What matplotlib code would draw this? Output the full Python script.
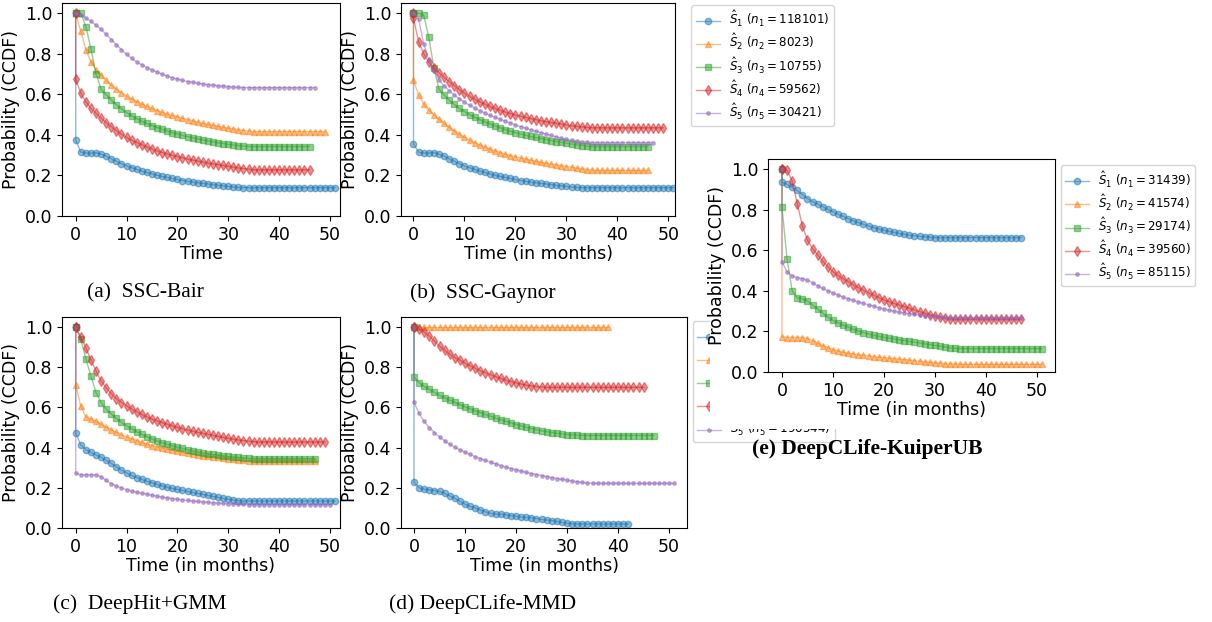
import numpy as np
import matplotlib
matplotlib.use("Agg")
import matplotlib.pyplot as plt
from matplotlib.patches import Rectangle

# ---------------- data (values at t = 0, 0+, 1, 2, ... months) ----------------
# (a) SSC-Bair
bair_s1 = [1.0, 0.375, 0.315, 0.31, 0.31, 0.312, 0.305, 0.295, 0.282, 0.27, 0.258, 0.247, 0.238, 0.23, 0.222,
           0.215, 0.208, 0.201, 0.195, 0.19, 0.185, 0.18, 0.175, 0.171, 0.167, 0.164, 0.161, 0.158, 0.155,
           0.152, 0.149, 0.146, 0.143, 0.141, 0.14, 0.14, 0.14, 0.14, 0.14, 0.14, 0.14, 0.14, 0.14, 0.14,
           0.14, 0.14, 0.14, 0.14, 0.14, 0.14, 0.14, 0.14, 0.14]
bair_s2 = [1.0, 1.0, 0.91, 0.82, 0.76, 0.72, 0.695, 0.668, 0.645, 0.625, 0.607, 0.59, 0.577, 0.564, 0.552,
           0.54, 0.53, 0.52, 0.511, 0.503, 0.496, 0.489, 0.482, 0.475, 0.469, 0.463, 0.457, 0.452, 0.447,
           0.442, 0.437, 0.433, 0.429, 0.425, 0.421, 0.418, 0.416, 0.416, 0.416, 0.416, 0.416, 0.416, 0.416,
           0.416, 0.416, 0.416, 0.416, 0.416, 0.416, 0.416, 0.416]
bair_s3 = [1.0, 1.0, 1.0, 0.934, 0.822, 0.70, 0.625, 0.597, 0.572, 0.549, 0.528, 0.51, 0.494, 0.48, 0.467,
           0.456, 0.446, 0.436, 0.427, 0.419, 0.411, 0.404, 0.397, 0.391, 0.385, 0.38, 0.375, 0.37, 0.365,
           0.361, 0.357, 0.353, 0.35, 0.347, 0.344, 0.342, 0.342, 0.342, 0.342, 0.342, 0.342, 0.342, 0.342,
           0.342, 0.342, 0.342, 0.342, 0.342]
bair_s4 = [1.0, 0.675, 0.605, 0.564, 0.531, 0.507, 0.482, 0.46, 0.44, 0.42, 0.403, 0.388, 0.374, 0.362, 0.351,
           0.34, 0.33, 0.321, 0.313, 0.306, 0.299, 0.293, 0.287, 0.281, 0.276, 0.271, 0.266, 0.261, 0.257,
           0.253, 0.249, 0.245, 0.241, 0.237, 0.234, 0.231, 0.228, 0.228, 0.228, 0.228, 0.228, 0.228, 0.228,
           0.228, 0.228, 0.228, 0.228, 0.228]
bair_s5 = [1.0, 1.0, 0.99, 0.975, 0.96, 0.94, 0.92, 0.895, 0.87, 0.845, 0.82, 0.797, 0.777, 0.76, 0.745,
           0.732, 0.72, 0.71, 0.70, 0.69, 0.682, 0.675, 0.669, 0.663, 0.659, 0.655, 0.651, 0.648, 0.645,
           0.642, 0.64, 0.638, 0.636, 0.634, 0.633, 0.633, 0.633, 0.633, 0.633, 0.633, 0.633, 0.633, 0.633,
           0.633, 0.633, 0.633, 0.633, 0.633, 0.633]

# (b) SSC-Gaynor
gaynor_s1 = [1.0, 0.355, 0.315, 0.31, 0.31, 0.312, 0.305, 0.295, 0.282, 0.27, 0.258, 0.247, 0.238, 0.23, 0.222,
             0.215, 0.208, 0.201, 0.195, 0.19, 0.185, 0.18, 0.175, 0.171, 0.167, 0.164, 0.161, 0.158, 0.155,
             0.152, 0.149, 0.146, 0.143, 0.141, 0.14, 0.14, 0.14, 0.14, 0.14, 0.14, 0.14, 0.14, 0.14, 0.14,
             0.14, 0.14, 0.14, 0.14, 0.14, 0.14, 0.14, 0.14, 0.14]
gaynor_s2 = [1.0, 0.668, 0.597, 0.553, 0.523, 0.498, 0.477, 0.457, 0.438, 0.42, 0.403, 0.388, 0.374, 0.362,
             0.35, 0.34, 0.33, 0.321, 0.313, 0.305, 0.298, 0.292, 0.286, 0.28, 0.275, 0.27, 0.265, 0.26, 0.256,
             0.252, 0.248, 0.244, 0.24, 0.236, 0.232, 0.229, 0.227, 0.225, 0.225, 0.225, 0.225, 0.225, 0.225,
             0.225, 0.225, 0.225, 0.225, 0.225]
gaynor_s3 = [1.0, 1.0, 1.0, 0.99, 0.882, 0.73, 0.625, 0.597, 0.572, 0.55, 0.53, 0.515, 0.50, 0.487, 0.475,
             0.464, 0.454, 0.444, 0.435, 0.426, 0.418, 0.411, 0.404, 0.398, 0.392, 0.387, 0.382, 0.377, 0.372,
             0.367, 0.363, 0.359, 0.355, 0.351, 0.347, 0.344, 0.341, 0.341, 0.341, 0.341, 0.341, 0.341, 0.341,
             0.341, 0.341, 0.341, 0.341, 0.341]
gaynor_s4 = [1.0, 0.975, 0.86, 0.80, 0.758, 0.728, 0.707, 0.684, 0.663, 0.643, 0.623, 0.605, 0.59, 0.576,
             0.563, 0.551, 0.54, 0.53, 0.521, 0.512, 0.505, 0.498, 0.492, 0.486, 0.48, 0.475, 0.47, 0.465,
             0.461, 0.457, 0.453, 0.449, 0.445, 0.442, 0.439, 0.437, 0.435, 0.435, 0.435, 0.435, 0.435, 0.435,
             0.435, 0.435, 0.435, 0.435, 0.435, 0.435, 0.435, 0.435, 0.435]
gaynor_s5 = [1.0, 1.0, 0.97, 0.85, 0.77, 0.717, 0.671, 0.641, 0.618, 0.597, 0.577, 0.561, 0.546, 0.532, 0.519,
             0.507, 0.496, 0.486, 0.476, 0.467, 0.458, 0.449, 0.441, 0.433, 0.425, 0.418, 0.411, 0.404, 0.397,
             0.39, 0.384, 0.378, 0.373, 0.369, 0.366, 0.364, 0.362, 0.362, 0.362, 0.362, 0.362, 0.362, 0.362,
             0.362, 0.362, 0.362, 0.362, 0.362, 0.362]

# (c) DeepHit+GMM
dh_s1 = [1.0, 0.473, 0.413, 0.39, 0.376, 0.363, 0.352, 0.337, 0.321, 0.305, 0.289, 0.274, 0.262, 0.251, 0.242,
         0.233, 0.225, 0.217, 0.21, 0.203, 0.197, 0.192, 0.187, 0.182, 0.177, 0.172, 0.167, 0.162, 0.157, 0.152,
         0.147, 0.143, 0.139, 0.136, 0.134, 0.134, 0.134, 0.134, 0.134, 0.134, 0.134, 0.134, 0.134, 0.134,
         0.134, 0.134, 0.134, 0.134, 0.134, 0.134, 0.134, 0.134, 0.134]
dh_s2 = [1.0, 0.713, 0.606, 0.552, 0.542, 0.53, 0.517, 0.502, 0.489, 0.476, 0.464, 0.453, 0.444, 0.435, 0.426,
         0.418, 0.41, 0.404, 0.398, 0.392, 0.386, 0.381, 0.376, 0.372, 0.368, 0.364, 0.36, 0.357, 0.354, 0.351,
         0.348, 0.345, 0.342, 0.339, 0.336, 0.334, 0.333, 0.333, 0.333, 0.333, 0.333, 0.333, 0.333, 0.333,
         0.333, 0.333, 0.333, 0.333, 0.333]
dh_s3 = [1.0, 1.0, 0.94, 0.842, 0.756, 0.674, 0.624, 0.591, 0.567, 0.545, 0.526, 0.509, 0.494, 0.479, 0.466,
         0.454, 0.443, 0.433, 0.424, 0.416, 0.409, 0.402, 0.396, 0.39, 0.385, 0.379, 0.374, 0.37, 0.366, 0.362,
         0.359, 0.356, 0.353, 0.351, 0.349, 0.347, 0.345, 0.345, 0.345, 0.345, 0.345, 0.345, 0.345, 0.345,
         0.345, 0.345, 0.345, 0.345, 0.345]
dh_s4 = [1.0, 1.0, 0.95, 0.896, 0.838, 0.781, 0.731, 0.698, 0.669, 0.644, 0.624, 0.608, 0.592, 0.578, 0.565,
         0.553, 0.542, 0.533, 0.524, 0.516, 0.508, 0.501, 0.494, 0.488, 0.482, 0.476, 0.471, 0.466, 0.461,
         0.456, 0.451, 0.446, 0.442, 0.438, 0.435, 0.432, 0.43, 0.428, 0.428, 0.428, 0.428, 0.428, 0.428,
         0.428, 0.428, 0.428, 0.428, 0.428, 0.428, 0.428, 0.428]
dh_s5 = [1.0, 0.272, 0.265, 0.265, 0.265, 0.265, 0.254, 0.237, 0.221, 0.209, 0.199, 0.191, 0.184, 0.178, 0.173,
         0.168, 0.163, 0.158, 0.154, 0.15, 0.146, 0.143, 0.14, 0.137, 0.135, 0.132, 0.13, 0.128, 0.126, 0.124,
         0.122, 0.12, 0.119, 0.118, 0.117, 0.115, 0.115, 0.115, 0.115, 0.115, 0.115, 0.115, 0.115, 0.115,
         0.115, 0.115, 0.115, 0.115, 0.115, 0.115, 0.115, 0.115]

# (d) DeepCLife-MMD
mmd_s1 = [1.0, 0.228, 0.2, 0.193, 0.19, 0.186, 0.182, 0.172, 0.16, 0.148, 0.133, 0.118, 0.108, 0.1, 0.09,
          0.08, 0.073, 0.07, 0.069, 0.066, 0.062, 0.058, 0.054, 0.053, 0.051, 0.047, 0.043, 0.04, 0.037,
          0.033, 0.028, 0.024, 0.021, 0.02, 0.02, 0.02, 0.02, 0.02, 0.02, 0.02, 0.02, 0.02, 0.02, 0.02]
mmd_s2 = [1.0, 1.0, 1.0, 1.0, 1.0, 1.0, 1.0, 1.0, 1.0, 1.0, 1.0, 1.0, 1.0, 1.0, 1.0, 1.0, 1.0, 1.0, 1.0, 1.0,
          1.0, 1.0, 1.0, 1.0, 1.0, 1.0, 1.0, 1.0, 1.0, 1.0, 1.0, 1.0, 1.0, 1.0, 1.0, 1.0, 1.0, 1.0, 1.0, 1.0]
mmd_s3 = [1.0, 0.753, 0.723, 0.705, 0.69, 0.675, 0.66, 0.648, 0.636, 0.625, 0.614, 0.603, 0.593, 0.583, 0.574,
          0.565, 0.556, 0.547, 0.539, 0.531, 0.523, 0.515, 0.508, 0.501, 0.495, 0.489, 0.484, 0.479, 0.475,
          0.471, 0.468, 0.465, 0.463, 0.462, 0.46, 0.46, 0.46, 0.46, 0.46, 0.46, 0.46, 0.46, 0.46, 0.46,
          0.46, 0.46, 0.46, 0.46, 0.46]
mmd_s4 = [1.0, 1.0, 0.99, 0.975, 0.955, 0.93, 0.905, 0.885, 0.865, 0.848, 0.835, 0.82, 0.807, 0.795, 0.783,
          0.772, 0.762, 0.753, 0.744, 0.736, 0.729, 0.722, 0.716, 0.711, 0.707, 0.704, 0.702, 0.70, 0.70,
          0.70, 0.70, 0.70, 0.70, 0.70, 0.70, 0.70, 0.70, 0.70, 0.70, 0.70, 0.70, 0.70, 0.70, 0.70, 0.70,
          0.70, 0.70]
mmd_s5 = [1.0, 0.625, 0.57, 0.53, 0.50, 0.475, 0.453, 0.434, 0.417, 0.402, 0.389, 0.377, 0.366, 0.355, 0.345,
          0.336, 0.327, 0.319, 0.311, 0.303, 0.296, 0.289, 0.283, 0.277, 0.271, 0.266, 0.261, 0.256, 0.251,
          0.246, 0.242, 0.238, 0.234, 0.23, 0.227, 0.224, 0.222, 0.222, 0.222, 0.222, 0.222, 0.222, 0.222,
          0.222, 0.222, 0.222, 0.222, 0.222, 0.222, 0.222, 0.222, 0.222, 0.222]

# (e) DeepCLife-KuiperUB
kub_s1 = [1.0, 0.935, 0.925, 0.91, 0.895, 0.875, 0.855, 0.84, 0.827, 0.815, 0.802, 0.79, 0.778, 0.767, 0.756,
          0.746, 0.737, 0.728, 0.72, 0.712, 0.705, 0.699, 0.693, 0.688, 0.683, 0.679, 0.675, 0.672, 0.669,
          0.667, 0.665, 0.663, 0.663, 0.663, 0.663, 0.663, 0.663, 0.663, 0.663, 0.663, 0.663, 0.663, 0.663,
          0.663, 0.663, 0.663, 0.663, 0.663, 0.663]
kub_s2 = [1.0, 0.173, 0.17, 0.17, 0.17, 0.17, 0.165, 0.155, 0.142, 0.13, 0.12, 0.11, 0.104, 0.098, 0.093,
          0.089, 0.085, 0.082, 0.079, 0.076, 0.073, 0.07, 0.068, 0.066, 0.063, 0.061, 0.058, 0.056, 0.053,
          0.05, 0.048, 0.045, 0.043, 0.041, 0.04, 0.039, 0.038, 0.038, 0.038, 0.038, 0.038, 0.038, 0.038,
          0.038, 0.038, 0.038, 0.038, 0.038, 0.038, 0.038, 0.038, 0.038, 0.038]
kub_s3 = [1.0, 0.811, 0.555, 0.40, 0.365, 0.36, 0.35, 0.33, 0.31, 0.29, 0.27, 0.255, 0.242, 0.231, 0.221,
          0.211, 0.202, 0.194, 0.187, 0.181, 0.176, 0.171, 0.167, 0.163, 0.159, 0.155, 0.151, 0.147, 0.143,
          0.139, 0.135, 0.131, 0.127, 0.123, 0.119, 0.117, 0.115, 0.115, 0.115, 0.115, 0.115, 0.115, 0.115,
          0.115, 0.115, 0.115, 0.115, 0.115, 0.115, 0.115, 0.115, 0.115, 0.115]
kub_s4 = [1.0, 1.0, 0.995, 0.94, 0.83, 0.72, 0.65, 0.608, 0.576, 0.546, 0.518, 0.495, 0.476, 0.46, 0.445,
          0.43, 0.416, 0.403, 0.39, 0.378, 0.367, 0.356, 0.347, 0.338, 0.33, 0.322, 0.314, 0.306, 0.298,
          0.29, 0.283, 0.276, 0.27, 0.265, 0.262, 0.26, 0.26, 0.26, 0.26, 0.26, 0.26, 0.26, 0.26, 0.26,
          0.26, 0.26, 0.26, 0.26, 0.26]
kub_s5 = [1.0, 0.543, 0.493, 0.475, 0.465, 0.46, 0.452, 0.44, 0.425, 0.412, 0.40, 0.389, 0.379, 0.37, 0.361,
          0.353, 0.345, 0.338, 0.331, 0.324, 0.317, 0.311, 0.305, 0.30, 0.295, 0.291, 0.287, 0.284, 0.281,
          0.278, 0.276, 0.274, 0.272, 0.27, 0.268, 0.268, 0.268, 0.268, 0.268, 0.268, 0.268, 0.268, 0.268,
          0.268, 0.268, 0.268, 0.268, 0.268, 0.268]

# legend sample sizes
n_gaynor = [118101, 8023, 10755, 59562, 30421]
n_mmd_last = 190544
n_kuiper = [31439, 41574, 29174, 39560, 85115]

captions = ["(a)  SSC-Bair", "(b)  SSC-Gaynor", "(c)  DeepHit+GMM", "(d) DeepCLife-MMD",
            "(e) DeepCLife-KuiperUB"]
xlabels = ["Time", "Time (in months)", "Time (in months)", "Time (in months)", "Time (in months)"]

# ---------------- styling ----------------
colors = ["#1f77b4", "#ff7f0e", "#2ca02c", "#d62728", "#9467bd"]
markers = ["o", "^", "s", "d", "."]
msizes = [4.6, 4.6, 4.6, 5.6, 5.0]

W, H = 1212, 622
fig = plt.figure(figsize=(W / 100, H / 100), dpi=100)


def px_axes(left, right, top, bottom, **kw):
    return fig.add_axes([left / W, 1 - bottom / H, (right - left) / W, (bottom - top) / H], **kw)


def times(vals):
    return np.concatenate([[0.0], np.arange(len(vals) - 1, dtype=float)])


def draw(ax, series, labels, xlabel, xlim):
    for i, vals in enumerate(series):
        ax.plot(times(vals), vals, marker=markers[i], color=colors[i], alpha=0.5, lw=1.0,
                markersize=msizes[i], label=labels[i] if labels else None)
    ax.set_xlim(*xlim)
    ax.set_ylim(0, 1.05)
    ax.set_xticks([0, 10, 20, 30, 40, 50])
    ax.set_yticks([0.0, 0.2, 0.4, 0.6, 0.8, 1.0])
    ax.tick_params(labelsize=12.5)
    ax.set_xlabel(xlabel, fontsize=12.5, labelpad=1)
    ax.set_ylabel("Probability (CCDF)", fontsize=12.5, labelpad=3)


def lab(k, n):
    return r"$\hat{S}_%d\ (n_%d = %d)$" % (k, k, n)


ax_a = px_axes(62, 340, 3, 216)
draw(ax_a, [bair_s1, bair_s2, bair_s3, bair_s4, bair_s5], None, xlabels[0], (-2.7, 52.0))

ax_b = px_axes(401, 675, 3, 216)
draw(ax_b, [gaynor_s1, gaynor_s2, gaynor_s3, gaynor_s4, gaynor_s5],
     [lab(k + 1, n) for k, n in enumerate(n_gaynor)], xlabels[1], (-2.45, 51.3))

ax_c = px_axes(62, 340, 317, 528)
draw(ax_c, [dh_s1, dh_s2, dh_s3, dh_s4, dh_s5], None, xlabels[2], (-2.7, 52.0))

ax_d = px_axes(401, 687, 317, 528)
mmd_labels = [r"$\hat{S}_1$", r"$\hat{S}_2$", r"$\hat{S}_3$", r"$\hat{S}_4$", lab(5, n_mmd_last)]
draw(ax_d, [mmd_s1, mmd_s2, mmd_s3, mmd_s4, mmd_s5], mmd_labels, xlabels[3], (-2.55, 53.5))

ax_e = px_axes(768, 1055, 159, 372)
draw(ax_e, [kub_s1, kub_s2, kub_s3, kub_s4, kub_s5],
     [lab(k + 1, n) for k, n in enumerate(n_kuiper)], xlabels[4], (-2.75, 53.6))

leg_kw = dict(loc="upper left", fontsize=8.6, handlelength=2.0, borderaxespad=0.0,
              labelspacing=0.25, borderpad=0.35)
ax_b.legend(bbox_to_anchor=(1.06, 0.99), **leg_kw)
ax_d.legend(bbox_to_anchor=(1.02, 0.98), **leg_kw)
ax_e.legend(bbox_to_anchor=(1.02, 0.97), **leg_kw)

# panel (e) sits on an opaque white block that hides most of panel (d)'s legend
fig.patches.append(Rectangle((710 / W, 1 - 429 / H), (W - 710) / W, (429 - 140) / H,
                             transform=fig.transFigure, facecolor="white", edgecolor="none", zorder=1))
ax_e.set_zorder(2)

cap_kw = dict(family="Liberation Serif", fontsize=15.5, ha="center", va="center", zorder=3)
fig.text(145 / W, 1 - 293 / H, captions[0], **cap_kw)
fig.text(483 / W, 1 - 293 / H, captions[1], **cap_kw)
fig.text(140 / W, 1 - 604 / H, captions[2], **cap_kw)
fig.text(483 / W, 1 - 604 / H, captions[3], **cap_kw)
fig.text(867 / W, 1 - 449 / H, captions[4], fontweight="bold", **cap_kw)

fig.savefig("out.png", dpi=100)
